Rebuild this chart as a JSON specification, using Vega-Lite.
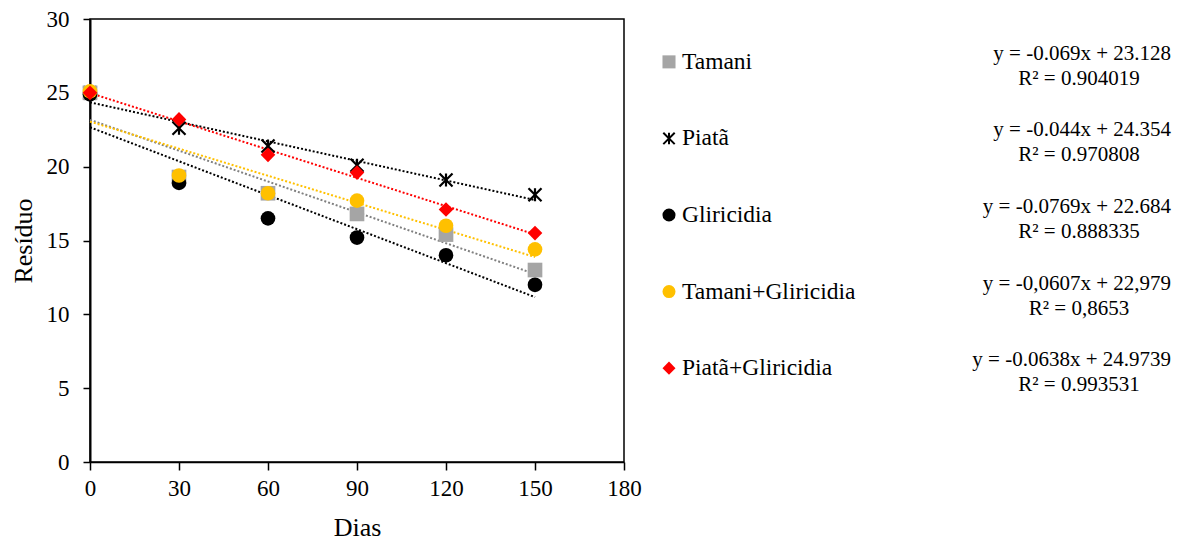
{
  "$schema": "https://vega.github.io/schema/vega-lite/v6.json",
  "background": "white",
  "padding": {"left": 9, "top": 7, "right": 2, "bottom": 2},
  "config": {
    "font": "Liberation Serif",
    "view": {"stroke": null},
    "concat": {"spacing": 2},
    "axis": {"grid": false, "labelFlush": false, "domainColor": "black", "tickColor": "black", "labelColor": "black", "titleColor": "black", "labelFont": "Liberation Serif", "titleFont": "Liberation Serif", "titleFontWeight": "normal"}
  },
  "datasets": {
    "obs": [
      {"series": "Tamani", "dias": 0, "residuo": 25.0},
      {"series": "Tamani", "dias": 30, "residuo": 19.3},
      {"series": "Tamani", "dias": 60, "residuo": 18.2},
      {"series": "Tamani", "dias": 90, "residuo": 16.8},
      {"series": "Tamani", "dias": 120, "residuo": 15.4},
      {"series": "Tamani", "dias": 150, "residuo": 13.0},
      {"series": "Piatã", "dias": 0, "residuo": 25.0},
      {"series": "Piatã", "dias": 30, "residuo": 22.6},
      {"series": "Piatã", "dias": 60, "residuo": 21.4},
      {"series": "Piatã", "dias": 90, "residuo": 20.1},
      {"series": "Piatã", "dias": 120, "residuo": 19.1},
      {"series": "Piatã", "dias": 150, "residuo": 18.1},
      {"series": "Gliricidia", "dias": 0, "residuo": 24.9},
      {"series": "Gliricidia", "dias": 30, "residuo": 18.9},
      {"series": "Gliricidia", "dias": 60, "residuo": 16.5},
      {"series": "Gliricidia", "dias": 90, "residuo": 15.2},
      {"series": "Gliricidia", "dias": 120, "residuo": 14.0},
      {"series": "Gliricidia", "dias": 150, "residuo": 12.0},
      {"series": "Tamani+Gliricidia", "dias": 0, "residuo": 25.1},
      {"series": "Tamani+Gliricidia", "dias": 30, "residuo": 19.4},
      {"series": "Tamani+Gliricidia", "dias": 60, "residuo": 18.2},
      {"series": "Tamani+Gliricidia", "dias": 90, "residuo": 17.7},
      {"series": "Tamani+Gliricidia", "dias": 120, "residuo": 16.0},
      {"series": "Tamani+Gliricidia", "dias": 150, "residuo": 14.4},
      {"series": "Piatã+Gliricidia", "dias": 0, "residuo": 25.0},
      {"series": "Piatã+Gliricidia", "dias": 30, "residuo": 23.2},
      {"series": "Piatã+Gliricidia", "dias": 60, "residuo": 20.8},
      {"series": "Piatã+Gliricidia", "dias": 90, "residuo": 19.6},
      {"series": "Piatã+Gliricidia", "dias": 120, "residuo": 17.1},
      {"series": "Piatã+Gliricidia", "dias": 150, "residuo": 15.5}
    ],
    "leg": [
      {"series": "Tamani", "eq": "y = -0.069x + 23.128", "r2": "R² = 0.904019"},
      {"series": "Piatã", "eq": "y = -0.044x + 24.354", "r2": "R² = 0.970808"},
      {"series": "Gliricidia", "eq": "y = -0.0769x + 22.684", "r2": "R² = 0.888335"},
      {"series": "Tamani+Gliricidia", "eq": "y = -0,0607x + 22,979", "r2": "R² = 0,8653"},
      {"series": "Piatã+Gliricidia", "eq": "y = -0.0638x + 24.9739", "r2": "R² = 0.993531"}
    ]
  },
  "hconcat": [
    {
      "width": 534,
      "height": 443,
      "view": {"stroke": "black", "strokeWidth": 1.5},
      "data": {"name": "obs"},
      "layer": [
        {
          "transform": [{"regression": "residuo", "on": "dias", "groupby": ["series"], "extent": [0, 150]}],
          "mark": {"type": "line", "strokeDash": [2, 2], "strokeWidth": 2},
          "encoding": {
            "x": {"field": "dias", "type": "quantitative", "scale": {"domain": [0, 180], "nice": false}},
            "y": {"field": "residuo", "type": "quantitative", "scale": {"domain": [0, 30], "nice": false}},
            "detail": {"field": "series"},
            "stroke": {"field": "series", "type": "nominal", "legend": null,
              "scale": {"domain": ["Tamani", "Piatã", "Gliricidia", "Tamani+Gliricidia", "Piatã+Gliricidia"], "range": ["#808080", "#000000", "#000000", "#FFC000", "#FF0000"]}}
          }
        },
        {
          "transform": [{"filter": "datum.series === 'Piatã'"}],
          "mark": {"type": "point", "filled": false, "shape": "M-1,-1L1,1M-1,1L1,-1M0,-1L0,1", "size": 170, "strokeWidth": 2.2, "color": "black", "opacity": 1},
          "encoding": {
            "x": {"field": "dias", "type": "quantitative"},
            "y": {"field": "residuo", "type": "quantitative"}
          }
        },
        {
          "transform": [{"filter": "datum.series !== 'Piatã'"}],
          "mark": {"type": "point", "filled": true, "opacity": 1, "size": 215},
          "encoding": {
            "x": {"field": "dias", "type": "quantitative",
              "axis": {"title": "Dias", "values": [0, 30, 60, 90, 120, 150, 180], "labelFontSize": 23, "titleFontSize": 26, "tickSize": 8, "labelPadding": 7, "titlePadding": 14, "domainWidth": 1.5, "tickWidth": 1.5}},
            "y": {"field": "residuo", "type": "quantitative",
              "axis": {"title": "Resíduo", "values": [0, 5, 10, 15, 20, 25, 30], "labelFontSize": 23, "titleFontSize": 26, "tickSize": 7, "labelPadding": 14, "titlePadding": 10, "domainWidth": 2, "tickWidth": 1.5}},
            "color": {"field": "series", "type": "nominal", "legend": null,
              "scale": {"domain": ["Tamani", "Gliricidia", "Tamani+Gliricidia", "Piatã+Gliricidia"], "range": ["#A5A5A5", "#000000", "#FFC000", "#FF0000"]}},
            "shape": {"field": "series", "type": "nominal", "legend": null,
              "scale": {"domain": ["Tamani", "Gliricidia", "Tamani+Gliricidia", "Piatã+Gliricidia"], "range": ["square", "circle", "circle", "diamond"]}}
          }
        }
      ]
    },
    {
      "width": 528,
      "height": 392,
      "data": {"name": "leg"},
      "encoding": {
        "y": {"field": "series", "type": "nominal", "axis": null,
          "scale": {"type": "point", "padding": 0.56, "domain": ["Tamani", "Piatã", "Gliricidia", "Tamani+Gliricidia", "Piatã+Gliricidia"]}}
      },
      "layer": [
        {
          "transform": [{"filter": "datum.series !== 'Piatã'"}],
          "mark": {"type": "point", "filled": true, "opacity": 1, "size": 170},
          "encoding": {
            "x": {"datum": 25, "type": "quantitative", "scale": {"domain": [0, 528], "nice": false, "zero": false}, "axis": null},
            "color": {"field": "series", "type": "nominal", "legend": null,
              "scale": {"domain": ["Tamani", "Gliricidia", "Tamani+Gliricidia", "Piatã+Gliricidia"], "range": ["#A5A5A5", "#000000", "#FFC000", "#FF0000"]}},
            "shape": {"field": "series", "type": "nominal", "legend": null,
              "scale": {"domain": ["Tamani", "Gliricidia", "Tamani+Gliricidia", "Piatã+Gliricidia"], "range": ["square", "circle", "circle", "diamond"]}}
          }
        },
        {
          "transform": [{"filter": "datum.series === 'Piatã'"}],
          "mark": {"type": "point", "filled": false, "shape": "M-1,-1L1,1M-1,1L1,-1M0,-1L0,1", "size": 130, "strokeWidth": 2, "color": "black", "opacity": 1},
          "encoding": {"x": {"datum": 25, "type": "quantitative", "axis": null}}
        },
        {
          "mark": {"type": "text", "align": "left", "baseline": "middle", "fontSize": 23.5, "font": "Liberation Serif", "color": "black"},
          "encoding": {"x": {"datum": 38, "type": "quantitative", "axis": null}, "text": {"field": "series"}}
        },
        {
          "mark": {"type": "text", "align": "right", "baseline": "middle", "fontSize": 21, "font": "Liberation Serif", "color": "black", "dy": -8},
          "encoding": {"x": {"datum": 527, "type": "quantitative", "axis": null}, "text": {"field": "eq"}}
        },
        {
          "mark": {"type": "text", "align": "center", "baseline": "middle", "fontSize": 21, "font": "Liberation Serif", "color": "black", "dy": 17},
          "encoding": {"x": {"datum": 435, "type": "quantitative", "axis": null}, "text": {"field": "r2"}}
        }
      ]
    }
  ]
}
